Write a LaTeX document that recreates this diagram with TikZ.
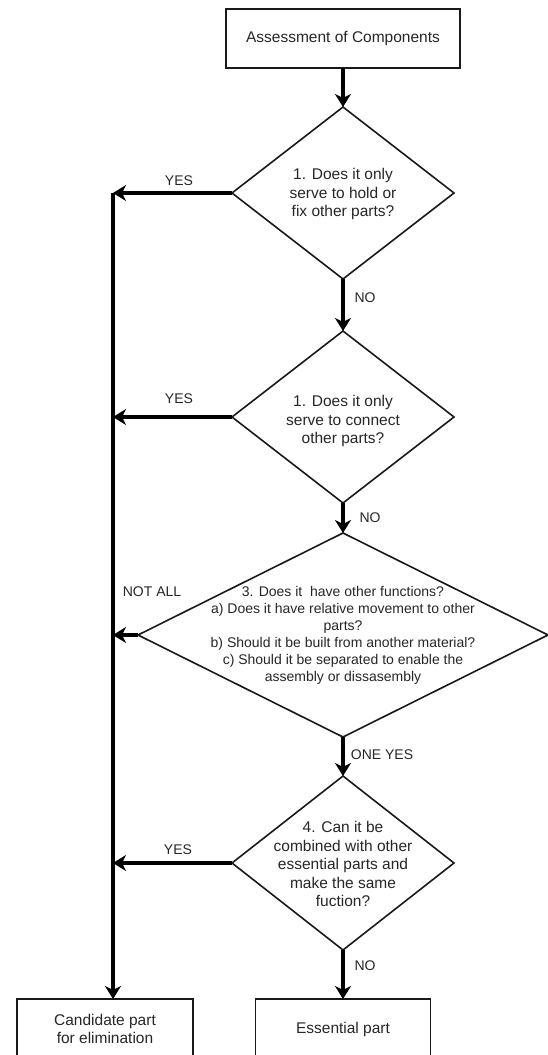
\documentclass[tikz,border=0pt]{standalone}
\usepackage{fontspec}
\setmainfont{Liberation Sans}
\usetikzlibrary{shapes.geometric,arrows.meta}
\begin{document}
\begin{tikzpicture}[x=1pt,y=-1pt,
  box/.style={draw=black!90,line width=1.8pt,inner sep=0pt,outer sep=0pt,align=center,
    font=\fontsize{15.5}{18.5}\selectfont,text=black!85},
  dia/.style={draw=black!90,diamond,line width=1.6pt,inner sep=0pt,outer sep=0pt},
  dtext/.style={align=center,inner sep=0pt,text=black!85,font=\fontsize{15.5}{18.5}\selectfont},
  dsmall/.style={align=center,inner sep=0pt,text=black!85,font=\fontsize{14}{17}\selectfont},
  lbl/.style={inner sep=0pt,text=black!85,font=\fontsize{14}{17}\selectfont},
  arr/.style={line width=3.5pt,draw=black,-{Stealth[length=13pt,width=16pt,inset=4pt]}}]
\useasboundingbox (0,0) rectangle (548,1055);

% nodes
\node[box,minimum width=234pt,minimum height=59pt] (start) at (343,38.5) {Assessment of Components};

\node[dia,minimum width=222pt,minimum height=172pt] (d1) at (343,193) {};
\node[dtext] (d1t) at (343,194) {1. Does it only\\serve to hold or\\fix other parts?};

\node[dia,minimum width=222pt,minimum height=172pt] (d2) at (343,417) {};
\node[dtext] (d2t) at (343,421) {1. Does it only\\serve to connect\\other parts?};

\node[dia,minimum width=410pt,minimum height=204pt] (d3) at (343,635) {};
\node[dsmall] (d3t) at (343,635) {3. Does it\ \ have other functions?\\a) Does it have relative movement to other\\parts?\\b) Should it be built from another material?\\c) Should it be separated to enable the\\assembly or dissasembly};

\node[dia,minimum width=222pt,minimum height=174pt] (d4) at (343,863) {};
\node[dtext] (d4t) at (343,864) {4. Can it be\\combined with other\\essential parts and\\make the same\\fuction?};

\node[box,minimum width=176pt,minimum height=60pt] (cand) at (105,1029) {Candidate part\\for elimination};
\node[box,minimum width=175pt,minimum height=60pt] (ess) at (343,1029) {Essential part};

% main flow
\draw[arr] (start) -- (d1);
\draw[arr] (d1) -- (d2);
\draw[arr] (d2) -- (d3);
\draw[arr] (d3) -- (d4);
\draw[arr] (d4) -- (ess);

% elimination bus
\coordinate (bus) at (113,193);
\draw[arr] (bus) -- (bus |- cand.north);
\draw[arr] (d1.west) -- (d1.west -| bus);
\draw[arr] (d2.west) -- (d2.west -| bus);
\draw[arr] (d3.west) -- (d3.west -| bus);
\draw[arr] (d4.west) -- (d4.west -| bus);

% labels
\node[lbl] (l1) at (179,181) {YES};
\node[lbl] (l2) at (365,298) {NO};
\node[lbl] (l3) at (179,399) {YES};
\node[lbl] (l4) at (370,518) {NO};
\node[lbl] (l5) at (152,592) {NOT ALL};
\node[lbl] (l6) at (382,755) {ONE YES};
\node[lbl] (l7) at (178,850) {YES};
\node[lbl] (l8) at (365,966) {NO};
\end{tikzpicture}
\end{document}
